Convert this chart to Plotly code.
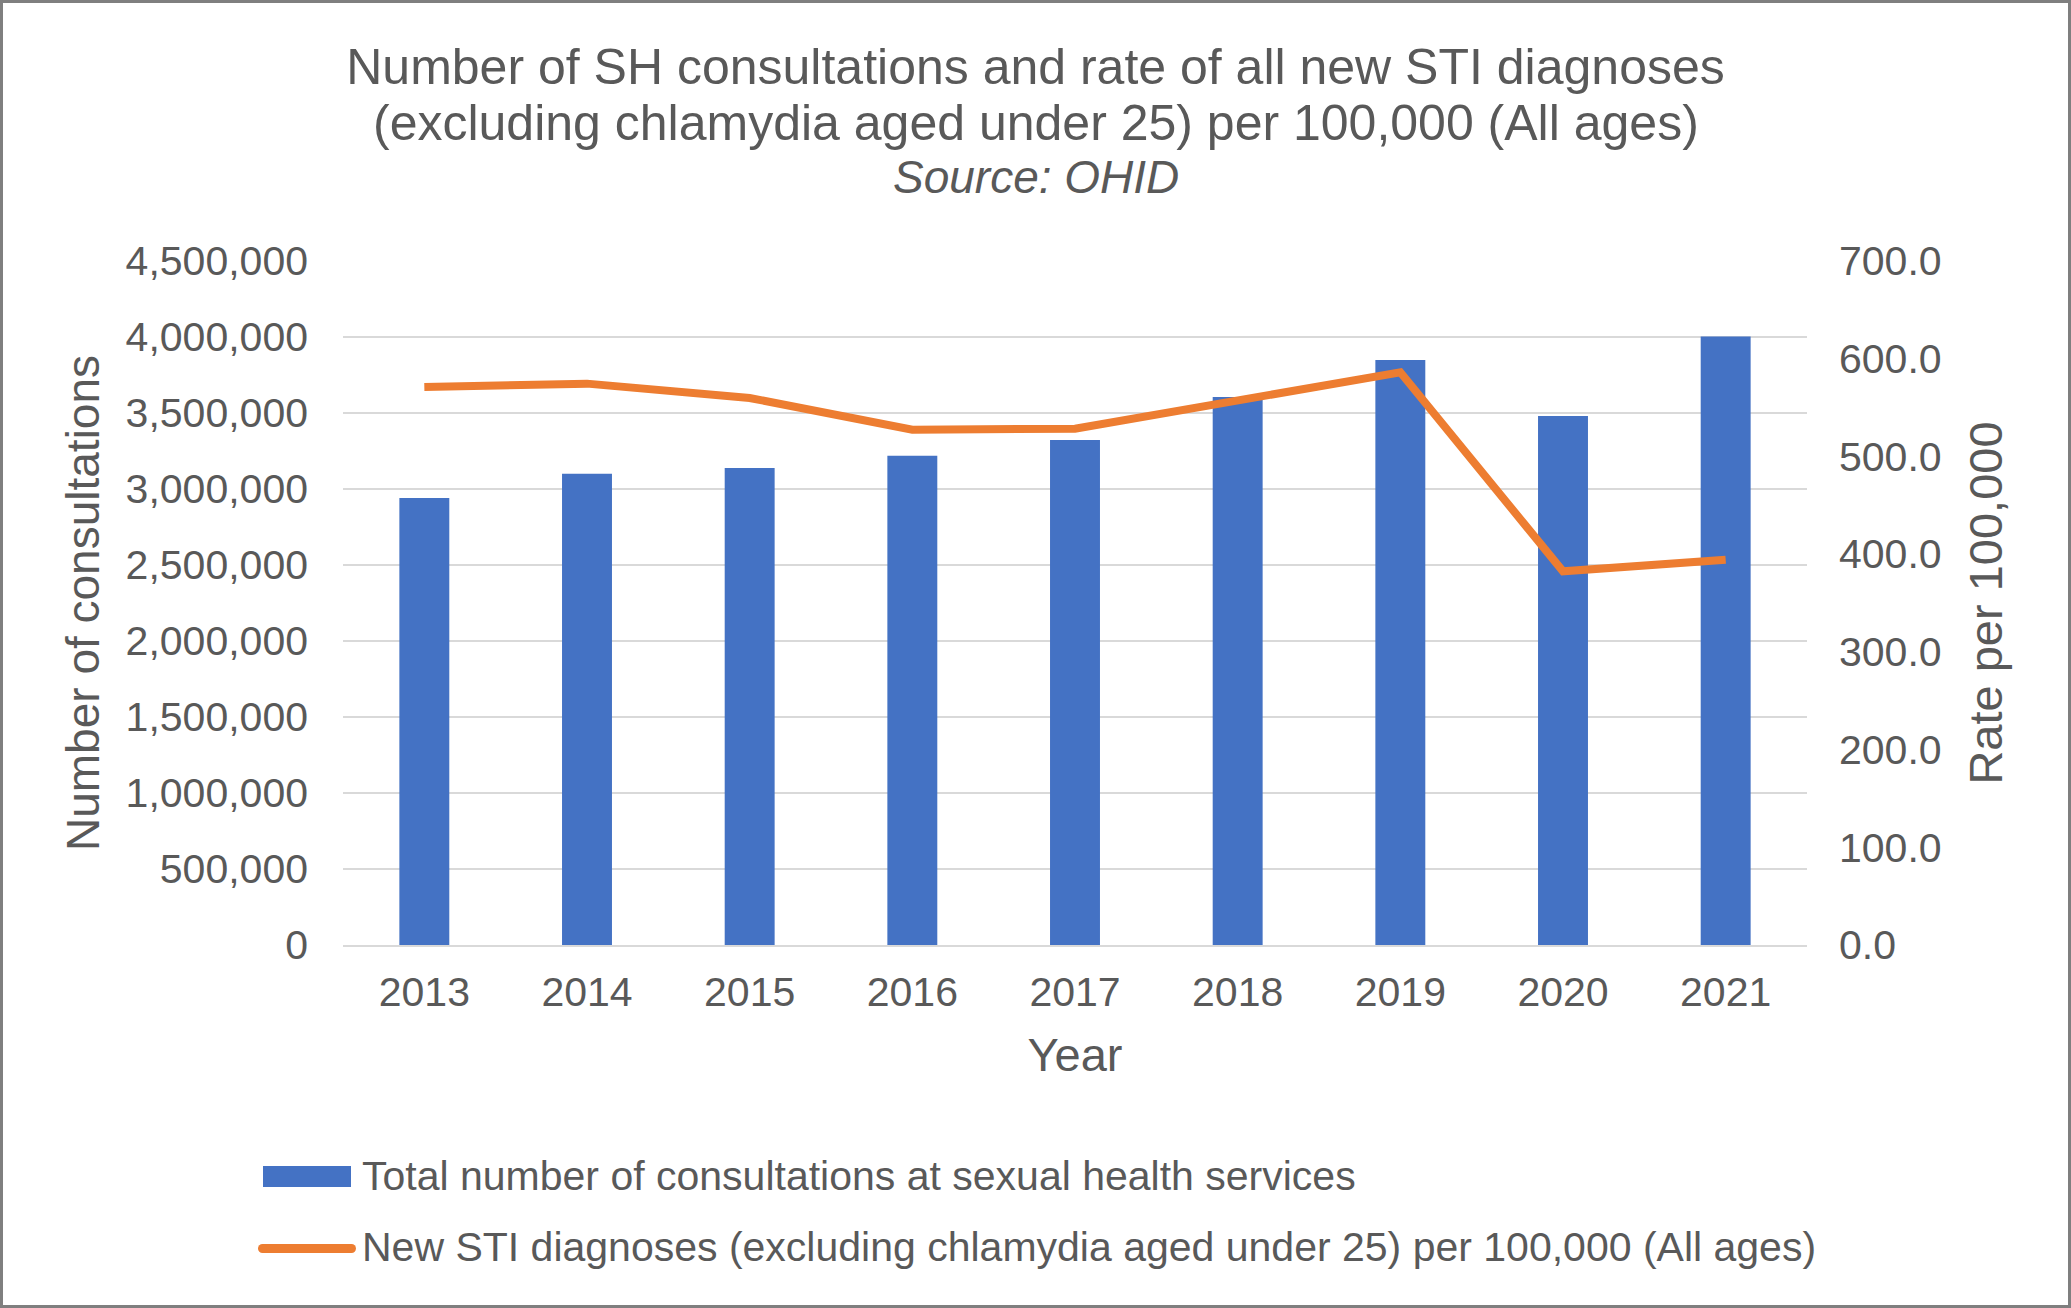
import plotly.graph_objects as go

years = ["2013", "2014", "2015", "2016", "2017", "2018", "2019", "2020", "2021"]
consultations = [2941000, 3100000, 3138000, 3219000, 3322000, 3605000, 3849000, 3480000, 4003000]
sti_rate = [571.1, 574.5, 559.8, 527.4, 528.4, 557.4, 586.1, 382.4, 394.3]

left_ticks = [0, 500000, 1000000, 1500000, 2000000, 2500000, 3000000, 3500000, 4000000, 4500000]
right_ticks = [0, 100, 200, 300, 400, 500, 600, 700]

bar_name = "Total number of consultations at sexual health services"
line_name = "New STI diagnoses (excluding chlamydia aged under 25) per 100,000 (All ages)"
title_line1 = "Number of SH consultations and rate of all new STI diagnoses"
title_line2 = "(excluding chlamydia aged under 25) per 100,000 (All ages)"
source_text = "Source: OHID"

BLUE = "#4472C4"
ORANGE = "#ED7D31"
TXT = "#595959"
GRID = "#D9D9D9"
FONT = "Liberation Sans, Arial, sans-serif"

W, H = 2071, 1308
L, R, T, B = 343, 264, 261, 363
PW, PH = W - L - R, H - T - B

def px(x):
    return (x - L) / PW

def py(y):
    return (H - B - y) / PH

fig = go.Figure()
fig.add_trace(go.Bar(x=years, y=consultations, name=bar_name, marker=dict(color=BLUE, line=dict(width=0)),
                     yaxis="y", showlegend=False))
fig.add_trace(go.Scatter(x=years, y=sti_rate, name=line_name, mode="lines",
                         line=dict(color=ORANGE, width=8), yaxis="y2", showlegend=False))

shapes = [
    # chart border
    dict(type="rect", xref="paper", yref="paper", x0=px(1.5), x1=px(W - 1.5), y0=py(H - 1.5), y1=py(1.5),
         line=dict(color="#7F7F7F", width=3), fillcolor="rgba(0,0,0,0)", layer="below"),
    # legend symbols
    dict(type="rect", xref="paper", yref="paper", x0=px(263), x1=px(351), y0=py(1187), y1=py(1166),
         line=dict(width=0), fillcolor=BLUE),
    dict(type="line", xref="paper", yref="paper", x0=px(262.5), x1=px(351.5), y0=py(1248.5), y1=py(1248.5),
         line=dict(color=ORANGE, width=9)),
    dict(type="circle", xref="paper", yref="paper", x0=px(258), x1=px(267), y0=py(1253), y1=py(1244),
         line=dict(width=0), fillcolor=ORANGE),
    dict(type="circle", xref="paper", yref="paper", x0=px(347), x1=px(356), y0=py(1253), y1=py(1244),
         line=dict(width=0), fillcolor=ORANGE),
]

annotations = [
    dict(text=title_line2, xref="paper", yref="paper", x=px(W / 2), y=py(123), xanchor="center",
         yanchor="middle", showarrow=False, font=dict(family=FONT, size=50, color=TXT)),
    dict(text="<i>" + source_text + "</i>", xref="paper", yref="paper", x=px(W / 2), y=py(177),
         xanchor="center", yanchor="middle", showarrow=False, font=dict(family=FONT, size=46, color=TXT)),
    dict(text=bar_name, xref="paper", yref="paper", x=px(360), y=py(1176), xanchor="left", yanchor="middle",
         showarrow=False, font=dict(family=FONT, size=41, color=TXT)),
    dict(text=line_name, xref="paper", yref="paper", x=px(360), y=py(1247), xanchor="left", yanchor="middle",
         showarrow=False, font=dict(family=FONT, size=41, color=TXT)),
]

fig.update_layout(
    width=W, height=H,
    margin=dict(l=L, r=R, t=T, b=B, autoexpand=False),
    paper_bgcolor="white", plot_bgcolor="white",
    font=dict(family=FONT, color=TXT, size=41),
    title=dict(text=title_line1, x=0.5, xref="container", xanchor="center",
               y=1 - 66 / H, yref="container", yanchor="middle",
               font=dict(family=FONT, size=50, color=TXT)),
    bargap=0.693,
    showlegend=False,
    xaxis=dict(type="category", showgrid=False, showline=True, linecolor=GRID, linewidth=2,
               ticks="", ticklabelstandoff=10, tickfont=dict(size=41, color=TXT),
               title=dict(text="Year", font=dict(size=47, color=TXT), standoff=24)),
    yaxis=dict(range=[0, 4500000], tickvals=left_ticks, tickformat=",d", showgrid=True,
               gridcolor=GRID, gridwidth=2, zeroline=False, showline=False, ticks="",
               ticklabelstandoff=34, tickfont=dict(size=41, color=TXT),
               title=dict(text="Number of consultations", font=dict(size=46, color=TXT), standoff=11)),
    yaxis2=dict(range=[0, 700], tickvals=right_ticks, tickformat=".1f", overlaying="y", side="right",
                showgrid=False, zeroline=False, showline=False, ticks="", ticklabelstandoff=31,
                tickfont=dict(size=41, color=TXT),
                title=dict(text="Rate per 100,000", font=dict(size=47, color=TXT), standoff=28)),
    shapes=shapes,
    annotations=annotations,
)

fig.write_html("out.html", config={"displayModeBar": False},
               post_script="document.body.style.margin='0';document.body.style.overflow='hidden';")
